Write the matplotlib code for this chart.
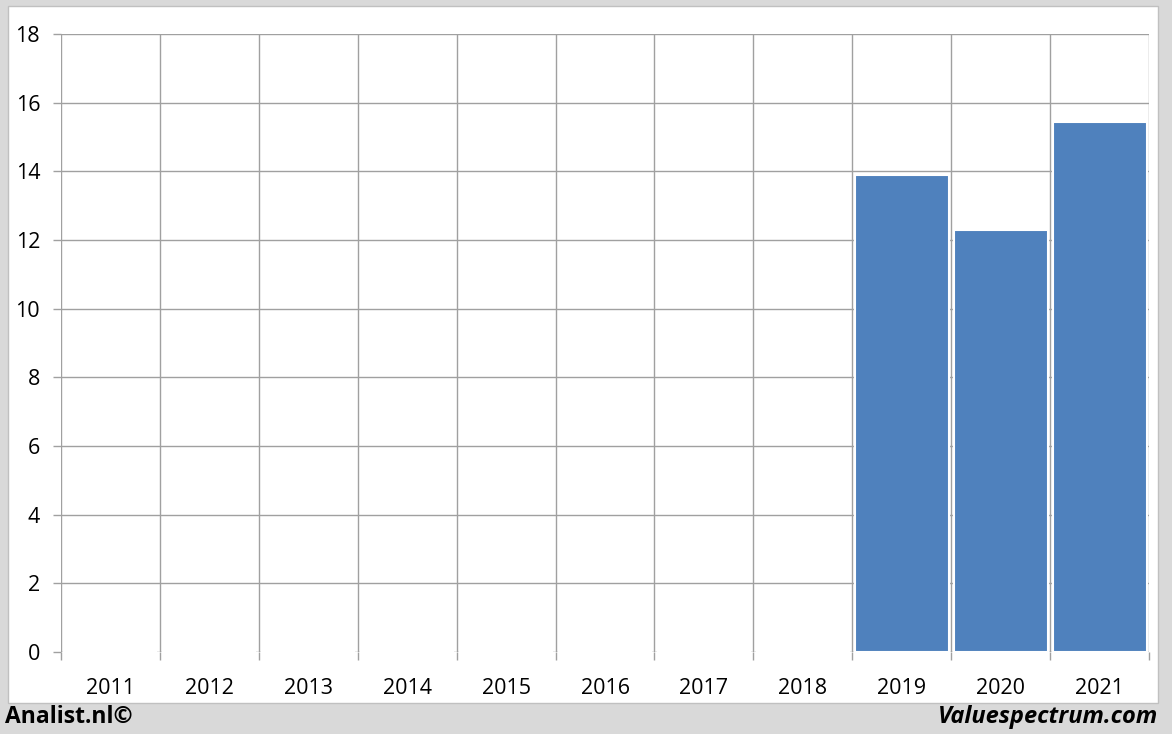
import numpy as np
import matplotlib.pyplot as plt
from matplotlib.patches import Rectangle

#- data
years = ["2011", "2012", "2013", "2014", "2015", "2016", "2017", "2018", "2019", "2020", "2021"]
values = [0, 0, 0, 0, 0, 0, 0, 0, 13.9, 12.3, 15.45]
yticks = [0, 2, 4, 6, 8, 10, 12, 14, 16, 18]

plt.rcParams['font.family'] = ['Open Sans', 'DejaVu Sans']

fig = plt.figure(figsize=(11.72, 7.34), dpi=100)
fig.patch.set_facecolor("#d9d9d9")

#- white chart panel
W, H = 1172, 734
fig.patches.append(Rectangle((8/W, 1 - 703/H), (1158-8)/W, (703-6)/H,
                             transform=fig.transFigure, facecolor="white",
                             edgecolor="#c0c0c0", linewidth=1.0, zorder=-10))

ax = fig.add_axes([61/W, 82/H, 1088/W, 618/H])
ax.set_facecolor("none")

x = np.arange(len(years))
ax.bar(x, values, width=0.95, color="#4f81bd", edgecolor="white", linewidth=1.5, zorder=3)

ax.set_xlim(-0.5, len(years) - 0.5)
ax.set_ylim(0, 18)

grid = "#a0a0a0"
for y in yticks:
    ax.axhline(y, color=grid, lw=1.0, zorder=1)
for b in np.arange(-0.5, len(years), 1.0):
    ax.axvline(b, color=grid, lw=1.0, zorder=1)

for s in ax.spines.values():
    s.set_visible(False)

ax.set_yticks(yticks)
ax.set_yticklabels([str(v) for v in yticks])
ax.set_xticks(x)
ax.set_xticklabels(years)
ax.set_xticks(np.arange(-0.5, len(years), 1.0), minor=True)
ax.tick_params(axis="x", which="major", length=0, pad=19, labelsize=15.5)
ax.tick_params(axis="x", which="minor", length=6, color=grid, width=1.0)
ax.tick_params(axis="y", length=6, color=grid, width=1.0, pad=9, labelsize=15.5)
for lbl in ax.get_xticklabels() + ax.get_yticklabels():
    lbl.set_color("black")

fig.text(5/W, 1 - 717/H, "Analist.nl©", fontsize=16.5, fontweight="bold", ha="left", va="center")
fig.text(1158/W, 1 - 717/H, "Valuespectrum.com", fontsize=17, fontweight="bold",
         fontstyle="italic", ha="right", va="center")

plt.savefig("out.png", dpi=100, facecolor=fig.get_facecolor())
